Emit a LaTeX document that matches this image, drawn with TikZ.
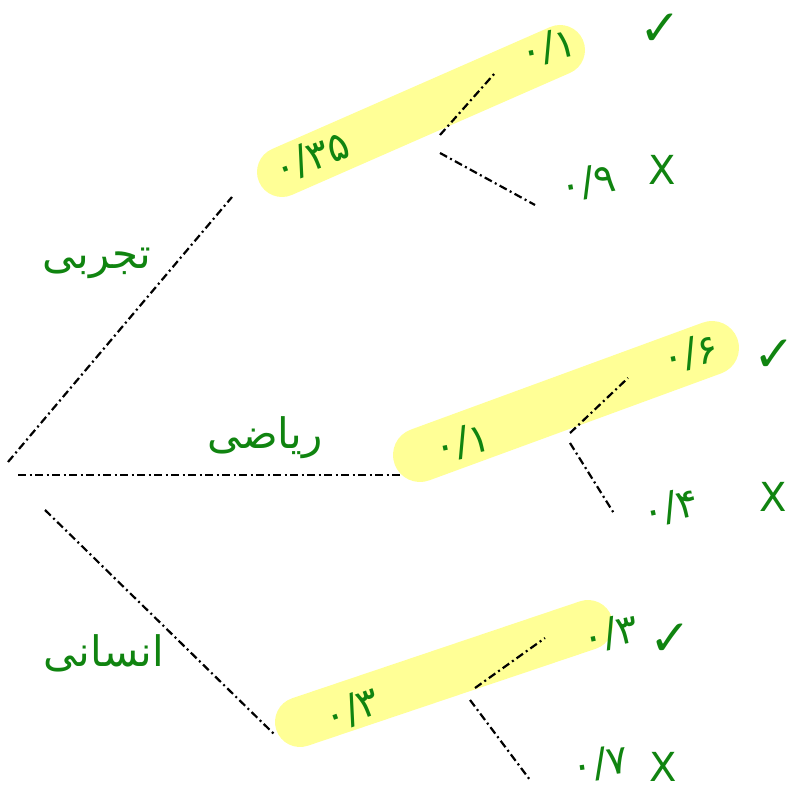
\documentclass[tikz,border=0pt]{standalone}
\usepackage{fontspec}
\newfontfamily\arabicfont[Script=Arabic]{DejaVu Sans}
\newfontfamily\symfont{DejaVu Sans}
\TeXXeTstate=1
\definecolor{penGreen}{RGB}{16,132,16}
\definecolor{hiYellow}{RGB}{255,255,150}
\tikzset{
  branch/.style={line width=2.2pt, black, dash pattern=on 8pt off 3.5pt on 2pt off 3.5pt},
  hilite/.style={line width=#1, hiYellow, line cap=round},
  word/.style={text=penGreen, font=\arabicfont\fontsize{42}{44}\selectfont, inner sep=0pt},
  num/.style={text=penGreen, font=\arabicfont\fontsize{40}{42}\selectfont, inner sep=0pt},
  tickmark/.style={text=penGreen, font=\symfont\fontsize{50}{52}\selectfont, inner sep=0pt},
  crossmark/.style={text=penGreen, font=\symfont\fontsize{40}{42}\selectfont, inner sep=0pt}
}
\begin{document}
\begin{tikzpicture}[x=1pt,y=1pt]
\useasboundingbox (0,0) rectangle (797,790);
% highlights
\draw[hilite=50pt] (282,618) -- (560,740);
\draw[hilite=54pt] (420,335) -- (712,442);
\draw[hilite=50pt] (300,68) -- (588,165);

% root coordinates
\coordinate (r1) at (8,328);
\coordinate (r2) at (18,315);
\coordinate (r3) at (45,280);
\coordinate (t1) at (232,593);
\coordinate (m1) at (400,315);
\coordinate (b1) at (275,55);

\draw[branch] (r1) -- (t1);
\draw[branch] (r2) -- (m1);
\draw[branch] (r3) -- (b1);

% top group
\node[num, rotate=20] (tn) at (312,632) {۰/۳۵};
\coordinate (ta) at (440,655);
\coordinate (tb) at (440,637);
\coordinate (tae) at (495,717);
\coordinate (tbe) at (535,585);
\draw[branch] (ta) -- (tae);
\draw[branch] (tb) -- (tbe);
\node[num, rotate=12] (tu) at (548,742) {۰/۱};
\node[tickmark] (tc) at (660,760) {✓};
\node[num, rotate=10] (tl) at (588,607) {۰/۹};
\node[crossmark] (tx) at (662,620) {X};

% middle group
\node[num, rotate=12] (mn) at (462,347) {۰/۱};
\coordinate (ma) at (570,357);
\coordinate (mb) at (570,347);
\coordinate (mae) at (628,412);
\coordinate (mbe) at (615,275);
\draw[branch] (ma) -- (mae);
\draw[branch] (mb) -- (mbe);
\node[num, rotate=12] (mu) at (690,436) {۰/۶};
\node[tickmark] (mc) at (774,434) {✓};
\node[num, rotate=12] (ml) at (670,282) {۰/۴};
\node[crossmark] (mx) at (773,293) {X};

% bottom group
\node[num, rotate=20] (bn) at (352,80) {۰/۳};
\coordinate (ba) at (475,102);
\coordinate (bb) at (470,90);
\coordinate (bae) at (545,152);
\coordinate (bbe) at (530,10);
\draw[branch] (ba) -- (bae);
\draw[branch] (bb) -- (bbe);
\node[num, rotate=12] (bu) at (610,156) {۰/۳};
\node[tickmark] (bc) at (670,150) {✓};
\node[num, rotate=8] (bl) at (600,26) {۰/۷};
\node[crossmark] (bx) at (663,23) {X};

% category labels
\node[word] (lt) at (97,527) {\beginR تجربی\endR};
\node[word] (lm) at (265,352) {\beginR ریاضی\endR};
\node[word] (lb) at (104,137) {\beginR انسانی\endR};
\end{tikzpicture}
\end{document}
